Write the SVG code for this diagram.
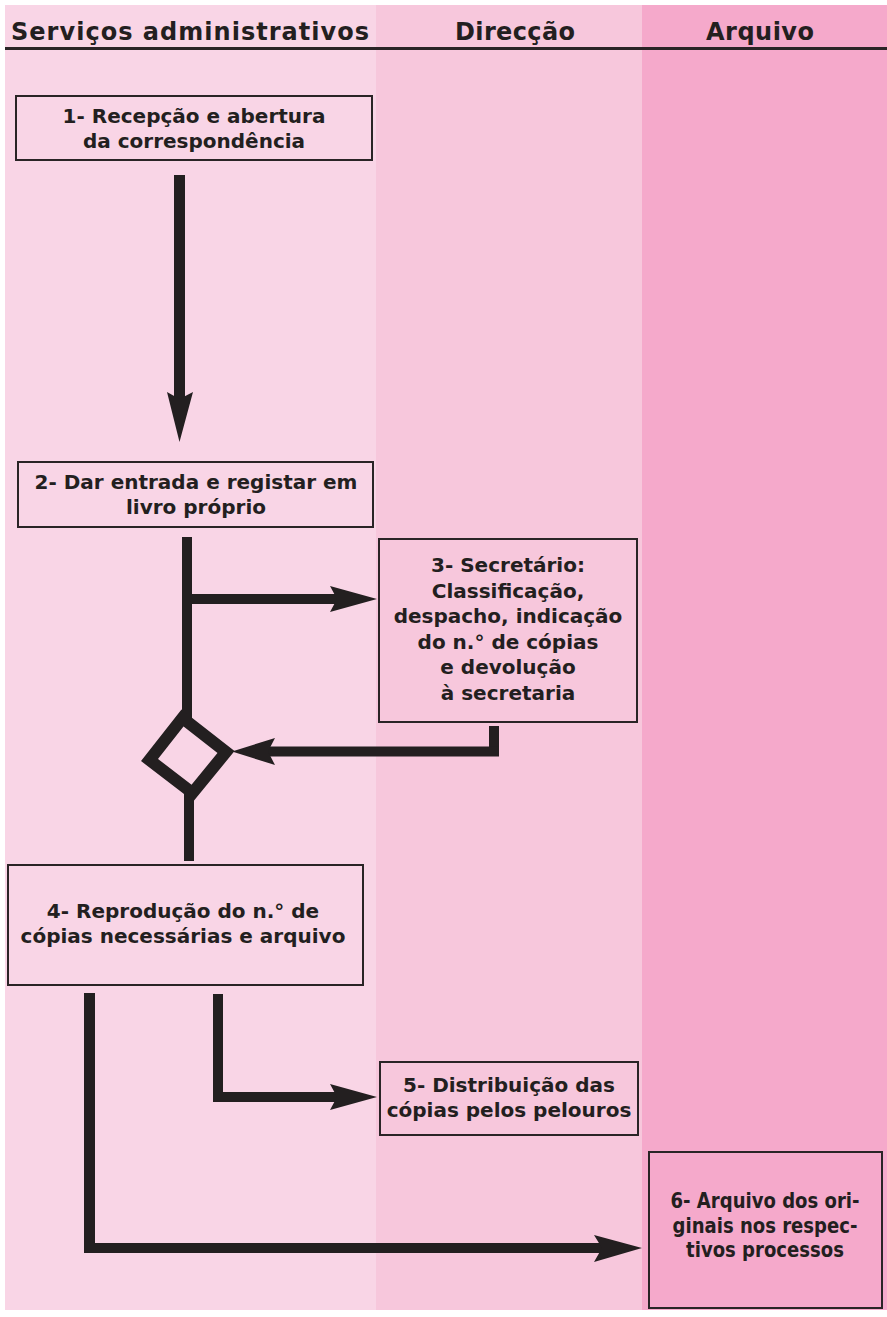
<svg xmlns="http://www.w3.org/2000/svg" width="887" height="1317" viewBox="0 0 887 1317">
<style>
.lbl{font-family:"DejaVu Sans",Verdana,sans-serif;font-weight:bold;font-size:20px;fill:#231f20;text-anchor:middle}
.hdr{font-family:"DejaVu Sans",Verdana,sans-serif;font-weight:bold;font-size:24px;fill:#231f20;text-anchor:middle}
.cnd{font-family:"DejaVu Sans",Verdana,sans-serif;font-weight:bold;font-size:21px;fill:#231f20;text-anchor:middle}
.box{fill:none;stroke:#2a2426;stroke-width:2}
.ln{fill:#231f20;stroke:none}
.dia{fill:none;stroke:#231f20;stroke-width:12;stroke-linejoin:miter}
</style>
<rect x="0" y="0" width="887" height="1317" fill="#ffffff"/>
<g id="lanes">
<rect x="5" y="5" width="371" height="1305" fill="#f9d5e6"/>
<rect x="376" y="5" width="266" height="1305" fill="#f7c7dc"/>
<rect x="642" y="5" width="245" height="1305" fill="#f5a9cb"/>
<rect x="5" y="47" width="882" height="3" fill="#2a2426"/>
<text class="hdr" x="190" y="40" textLength="358" lengthAdjust="spacing">Serviços administrativos</text>
<text class="hdr" x="515" y="40" textLength="120" lengthAdjust="spacing">Direcção</text>
<text class="hdr" x="760" y="40" textLength="108" lengthAdjust="spacing">Arquivo</text>
</g>
<g id="connectors">
<rect class="ln" x="174" y="175" width="11" height="225"/>
<polygon class="ln" points="167,392 179.5,399 193,392 179.5,442"/>
<rect class="ln" x="182" y="537" width="10" height="181"/>
<rect class="ln" x="187" y="594" width="150" height="10"/>
<polygon class="ln" points="330,586 337,599 330,612 377,599"/>
<rect class="ln" x="489" y="726" width="10" height="30"/>
<rect class="ln" x="268" y="746.5" width="231" height="10"/>
<polygon class="ln" points="275,738 268,751.5 275,765 232,751.5"/>
<rect class="ln" x="184" y="793" width="10" height="68"/>
<rect class="ln" x="84" y="993" width="11" height="260"/>
<rect class="ln" x="84" y="1243" width="518" height="10"/>
<polygon class="ln" points="594,1235 602,1248 594,1262 642,1248"/>
<rect class="ln" x="213" y="994" width="10" height="108"/>
<rect class="ln" x="213" y="1092" width="125" height="10"/>
<polygon class="ln" points="330,1084 337,1097 330,1110 377,1097"/>
</g>
<g id="decision">
<polygon class="dia" points="182.5,718 226,752 192.5,793 149.5,760"/>
</g>
<g id="n1">
<rect class="box" x="16" y="96" width="356" height="64"/>
<text class="lbl" x="194" y="123">1- Recepção e abertura</text>
<text class="lbl" x="194" y="148">da correspondência</text>
</g>
<g id="n2">
<rect class="box" x="18" y="462" width="355" height="65"/>
<text class="lbl" x="196" y="489">2- Dar entrada e registar em</text>
<text class="lbl" x="196" y="514">livro próprio</text>
</g>
<g id="n3">
<rect class="box" x="379" y="539" width="258" height="183"/>
<text class="lbl" x="508" y="572">3- Secretário:</text>
<text class="lbl" x="508" y="598">Classificação,</text>
<text class="lbl" x="508" y="623">despacho, indicação</text>
<text class="lbl" x="508" y="649">do n.° de cópias</text>
<text class="lbl" x="508" y="674">e devolução</text>
<text class="lbl" x="508" y="700">à secretaria</text>
</g>
<g id="n4">
<rect class="box" x="8" y="865" width="355" height="120"/>
<text class="lbl" x="183" y="918">4- Reprodução do n.° de</text>
<text class="lbl" x="183" y="943">cópias necessárias e arquivo</text>
</g>
<g id="n5">
<rect class="box" x="380" y="1062" width="258" height="73"/>
<text class="lbl" x="509" y="1092">5- Distribuição das</text>
<text class="lbl" x="509" y="1117">cópias pelos pelouros</text>
</g>
<g id="n6">
<rect class="box" x="649" y="1152" width="233" height="156"/>
<text class="cnd" transform="translate(765,1208) scale(0.86,1)" x="0" y="0">6- Arquivo dos ori-</text>
<text class="cnd" transform="translate(765,1233) scale(0.86,1)" x="0" y="0">ginais nos respec-</text>
<text class="cnd" transform="translate(765,1257) scale(0.86,1)" x="0" y="0">tivos processos</text>
</g>
</svg>
